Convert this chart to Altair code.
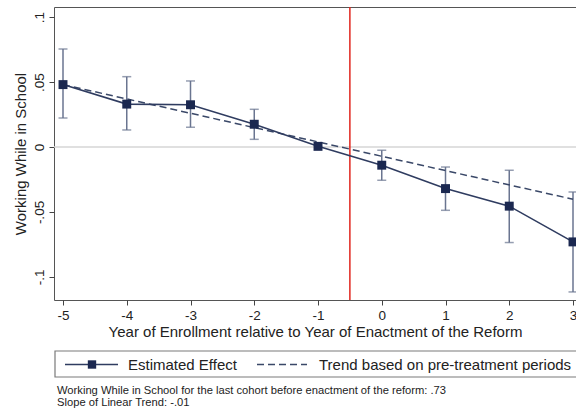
import altair as alt
import pandas as pd

# ---- data ----
years = [-5, -4, -3, -2, -1, 0, 1, 2, 3]
effect = [0.048, 0.033, 0.0325, 0.0175, 0.0005, -0.014, -0.032, -0.0455, -0.073]
ci_low = [0.0223, 0.0131, 0.0152, 0.0059, None, -0.0256, -0.0487, -0.0735, -0.1115]
ci_high = [0.0754, 0.0541, 0.0508, 0.0290, None, -0.0025, -0.0154, -0.0179, -0.0346]

trend_x = [-5, 3]
trend_y = [0.048, -0.0402]

reform_line = [-0.5]
zero_line = [0]

y_ticks = [-0.1, -0.05, 0, 0.05, 0.1]
y_tick_labels = ["-.1", "-.05", "0", ".05", ".1"]
x_ticks = [-5, -4, -3, -2, -1, 0, 1, 2, 3]

legend_labels = ["Estimated Effect", "Trend based on pre-treatment periods"]
notes = [
    "Working While in School for the last cohort before enactment of the reform: .73",
    "Slope of Linear Trend: -.01",
]
x_title = "Year of Enrollment relative to Year of Enactment of the Reform"
y_title = "Working While in School"

FONT = "Liberation Sans"
NAVY = "#1b2850"
LINE = "#2f3c60"
BAR = "#6a7590"

df = pd.DataFrame({"x": years, "y": effect, "lo": ci_low, "hi": ci_high})
ci = df.dropna()
tr = pd.DataFrame({"x": trend_x, "y": trend_y})

ylab_expr = " : ".join(
    f"abs(datum.value - ({v})) < 1e-6 ? '{l}'" for v, l in zip(y_ticks, y_tick_labels)
) + " : ''"

xs = alt.Scale(domain=[-5.1412, 3.047], nice=False, zero=False)
ys = alt.Scale(domain=[-0.1177, 0.1077], nice=False, zero=False)

xaxis = alt.Axis(values=x_ticks, labelExpr="'' + datum.value", title=x_title,
                 grid=False, domain=False, tickSize=5, tickColor="#444",
                 labelFontSize=13.5, labelPadding=3, titleFontSize=15,
                 titlePadding=3, labelColor="#222", titleColor="#222",
                 titleFontWeight="normal", labelFont=FONT, titleFont=FONT)
yaxis = alt.Axis(values=y_ticks, labelExpr=ylab_expr, title=y_title,
                 grid=False, domain=False, tickSize=5, tickColor="#444",
                 labelAngle=270, labelAlign="center", labelBaseline="bottom",
                 labelFontSize=13.5, labelPadding=3, titleFontSize=15,
                 titlePadding=4, labelColor="#222", titleColor="#222",
                 titleFontWeight="normal", labelFont=FONT, titleFont=FONT)

base = alt.Chart(df)

zero = alt.Chart(pd.DataFrame({"y": zero_line})).mark_rule(
    color="#d6d6d6", strokeWidth=1.5).encode(y=alt.Y("y:Q", scale=ys, axis=yaxis))

vline = alt.Chart(pd.DataFrame({"x": reform_line})).mark_rule(
    color="#e0261e", strokeWidth=1.5).encode(x=alt.X("x:Q", scale=xs, axis=xaxis))

bars = alt.Chart(ci).mark_rule(color=BAR, strokeWidth=1.5).encode(
    x=alt.X("x:Q", scale=xs), y=alt.Y("lo:Q", scale=ys), y2="hi:Q")
cap_lo = alt.Chart(ci).mark_tick(color=BAR, orient="horizontal", size=9, thickness=1.5).encode(
    x=alt.X("x:Q", scale=xs), y=alt.Y("lo:Q", scale=ys))
cap_hi = alt.Chart(ci).mark_tick(color=BAR, orient="horizontal", size=9, thickness=1.5).encode(
    x=alt.X("x:Q", scale=xs), y=alt.Y("hi:Q", scale=ys))

trend = alt.Chart(tr).mark_line(color="#3a4868", strokeWidth=1.5, strokeDash=[7, 4]).encode(
    x=alt.X("x:Q", scale=xs), y=alt.Y("y:Q", scale=ys))

line = base.mark_line(color=LINE, strokeWidth=1.6).encode(
    x=alt.X("x:Q", scale=xs), y=alt.Y("y:Q", scale=ys))
pts = base.mark_point(shape="square", filled=True, size=80, color=NAVY, opacity=1).encode(
    x=alt.X("x:Q", scale=xs), y=alt.Y("y:Q", scale=ys))

# ---- legend (drawn below the plot area) ----
leg_df = pd.DataFrame({"t": [0]})
leg = alt.Chart(leg_df)
leg_box = leg.mark_rect(fill="white", stroke="#7a7a7a", strokeWidth=1.2).encode(
    x=alt.value(1), x2=alt.value(620), y=alt.value(344), y2=alt.value(370))
leg_line1 = leg.mark_rule(color=LINE, strokeWidth=1.6).encode(
    x=alt.value(11), x2=alt.value(64), y=alt.value(357.5))
leg_sq = leg.mark_point(shape="square", filled=True, size=70, color=NAVY, opacity=1).encode(
    x=alt.value(38), y=alt.value(357.5))
leg_txt1 = leg.mark_text(text=legend_labels[0], align="left", baseline="middle",
                         font=FONT, fontSize=15, color="#222").encode(
    x=alt.value(74), y=alt.value(358))
leg_line2 = leg.mark_rule(color="#3a4868", strokeWidth=1.5, strokeDash=[7, 4]).encode(
    x=alt.value(203), x2=alt.value(253), y=alt.value(357.5))
leg_txt2 = leg.mark_text(text=legend_labels[1], align="left", baseline="middle",
                         font=FONT, fontSize=15, color="#222").encode(
    x=alt.value(265), y=alt.value(358))
note1 = leg.mark_text(text=notes[0], align="left", baseline="middle",
                      font=FONT, fontSize=11.2, color="#222").encode(
    x=alt.value(3), y=alt.value(384))
note2 = leg.mark_text(text=notes[1], align="left", baseline="middle",
                      font=FONT, fontSize=11.2, color="#222").encode(
    x=alt.value(3), y=alt.value(396))

chart = alt.layer(
    zero, vline, bars, cap_lo, cap_hi, trend, line, pts,
    leg_box, leg_line1, leg_sq, leg_txt1, leg_line2, leg_txt2, note1, note2,
).properties(
    width=522, height=293,
    autosize=alt.AutoSizeParams(type="none"),
    padding={"left": 54, "top": 7, "right": 0, "bottom": 114},
    background="white",
).configure_view(stroke="#555", strokeWidth=1)

chart.save("out.html", embed_options={"renderer": "svg", "actions": False})
